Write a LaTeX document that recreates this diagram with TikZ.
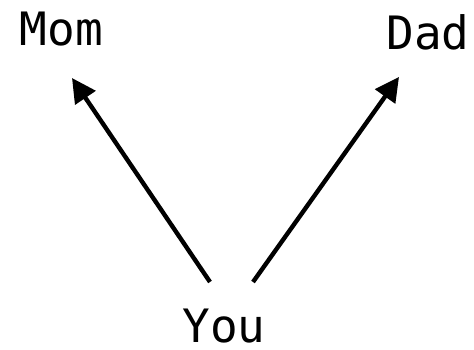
\documentclass[tikz,border=0pt]{standalone}
\usepackage{fontspec}
\setmonofont{DejaVu Sans Mono}
\usetikzlibrary{arrows.meta}
\begin{document}
\begin{tikzpicture}[x=1pt,y=1pt,
  lbl/.style={font=\ttfamily\fontsize{46}{50}\selectfont, inner sep=0pt, anchor=base, text depth=0pt},
  arr/.style={line width=4.4pt, -{Triangle[length=24pt,width=24pt]}}]
\useasboundingbox (0,0) rectangle (474,350);
\node[lbl] (mom) at (61.5,304) {Mom};
\node[lbl] (dad) at (428,300) {Dad};
\node[lbl] (you) at (224,7) {You};
\coordinate (ys1) at (210,68);
\coordinate (ys2) at (253,68);
\coordinate (mt) at (72,272);
\coordinate (dt) at (399,273);
\draw[arr] (ys1) -- (mt);
\draw[arr] (ys2) -- (dt);
\end{tikzpicture}
\end{document}
